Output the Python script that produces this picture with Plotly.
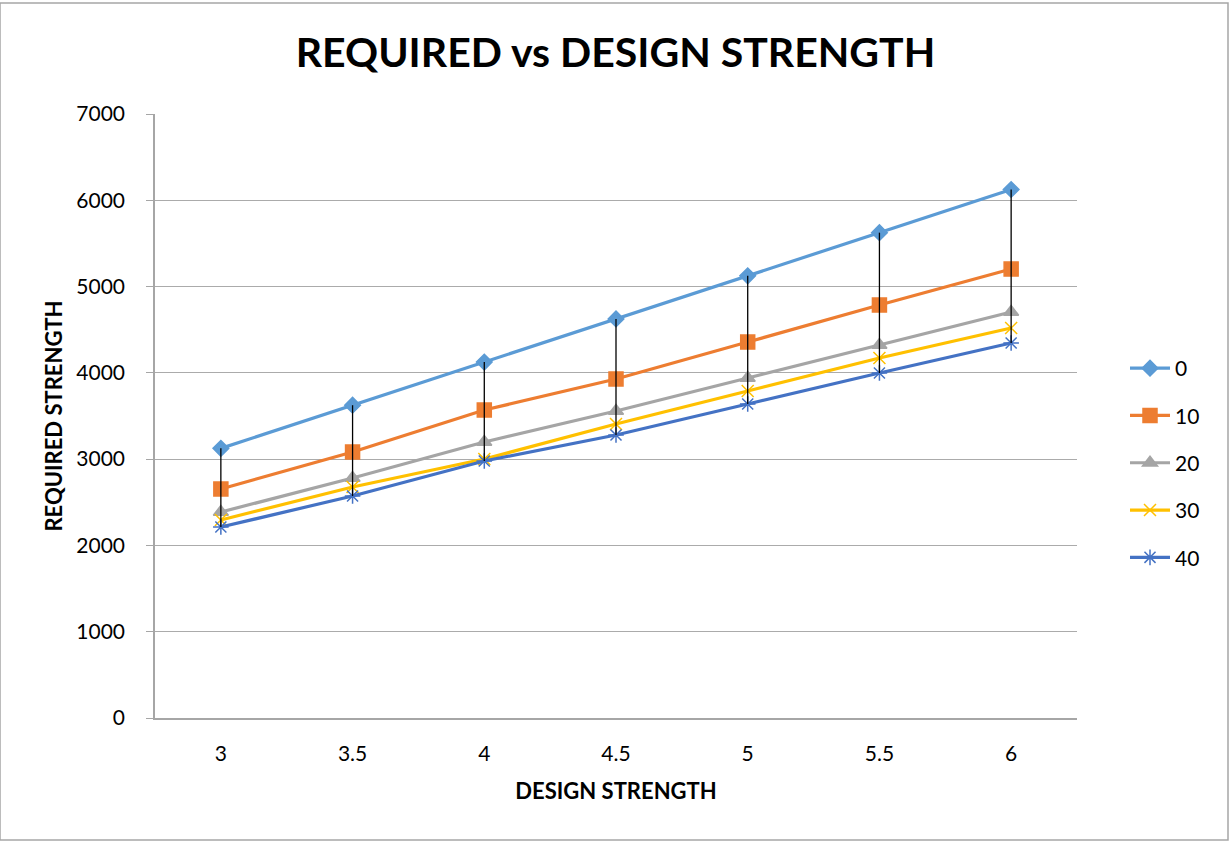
import plotly.graph_objects as go

# Design strength categories (x axis)
design_strength = ["3", "3.5", "4", "4.5", "5", "5.5", "6"]

# Required strength for each series
series_names = ["0", "10", "20", "30", "40"]
req_0 = [3125, 3625, 4125, 4625, 5125, 5625, 6125]
req_10 = [2654, 3083, 3569, 3929, 4357, 4786, 5203]
req_20 = [2387, 2781, 3199, 3558, 3940, 4323, 4705]
req_30 = [2295, 2677, 3001, 3407, 3790, 4172, 4520]
req_40 = [2213, 2573, 2978, 3280, 3639, 3998, 4346]

series_values = [req_0, req_10, req_20, req_30, req_40]
colors = ["#5B9BD5", "#ED7D31", "#A5A5A5", "#FFC000", "#4472C4"]
symbols = ["diamond", "square", "triangle-up", "x-thin-open", "asterisk-open"]
sizes = [12, 14, 13, 12, 13]

fig = go.Figure()

for name, vals, col, sym, sz in zip(series_names, series_values, colors, symbols, sizes):
    fig.add_trace(go.Scatter(
        x=design_strength, y=vals, name=name, legendgroup=name,
        mode="lines+markers",
        line=dict(color=col, width=3.2),
        marker=dict(symbol=sym, size=sz, color=col, line=dict(color=col, width=1.5)),
    ))

# High-low lines joining the max and min of all series at each category
hl_x, hl_y = [], []
for i, cat in enumerate(design_strength):
    col_vals = [s[i] for s in series_values]
    hl_x += [cat, cat, None]
    hl_y += [max(col_vals), min(col_vals), None]
fig.add_trace(go.Scatter(
    x=hl_x, y=hl_y, mode="lines", showlegend=False, hoverinfo="skip",
    line=dict(color="black", width=1.3),
))

font_family = "Lato, 'Open Sans', sans-serif"

fig.update_layout(
    width=1231, height=842,
    paper_bgcolor="white", plot_bgcolor="white",
    margin=dict(l=155, r=154, t=114, b=124),
    title=dict(
        text="<b>REQUIRED vs DESIGN STRENGTH</b>",
        x=0.5, xanchor="center", y=0.937, yanchor="middle",
        font=dict(family=font_family, size=41, color="black"),
    ),
    font=dict(family=font_family, size=21, color="black"),
    xaxis=dict(
        type="category", range=[-0.5, 6.5],
        showgrid=False, showline=True, linecolor="#A6A6A6", linewidth=1.5,
        ticks="", tickfont=dict(size=21), ticklabelstandoff=16,
        title=dict(text="<b>DESIGN STRENGTH</b>", font=dict(size=22), standoff=20),
        zeroline=False,
    ),
    yaxis=dict(
        range=[0, 7000], dtick=1000,
        showgrid=True, gridcolor="#ABABAB", gridwidth=1.2,
        showline=True, linecolor="#A6A6A6", linewidth=1.5,
        ticks="outside", ticklen=7, tickcolor="#A6A6A6", tickwidth=1.2,
        tickfont=dict(size=21), ticklabelstandoff=17,
        title=dict(text="<b>REQUIRED STRENGTH</b>", font=dict(size=22), standoff=8),
        zeroline=False,
    ),
    legend=dict(
        x=1 + 48 / 922, xanchor="left",
        y=(718 - 463) / 604, yanchor="middle",
        font=dict(size=21), tracegroupgap=17, itemwidth=40,
    ),
    shapes=[dict(
        type="rect", xref="paper", yref="paper",
        x0=-155 / 922, x1=1 + 151 / 922, y0=-122 / 604, y1=1 + 111 / 604,
        line=dict(color="#A6A6A6", width=1.5), fillcolor="rgba(0,0,0,0)",
    )],
)

fig.write_html("out.html")
